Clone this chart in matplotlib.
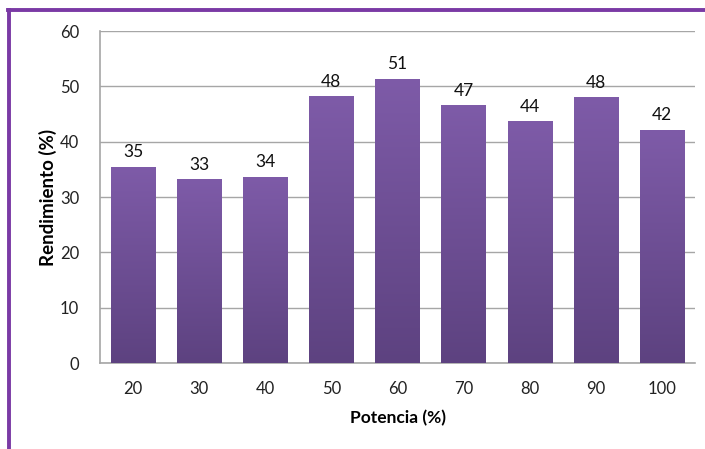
import numpy as np
import matplotlib.pyplot as plt
from matplotlib.colors import LinearSegmentedColormap
from matplotlib.lines import Line2D

# Datos: potencia (%) y rendimiento (%)
potencia = ['20', '30', '40', '50', '60', '70', '80', '90', '100']
rendimiento = [35.4, 33.2, 33.7, 48.2, 51.4, 46.6, 43.7, 48.0, 42.1]
etiquetas = ['35', '33', '34', '48', '51', '47', '44', '48', '42']

plt.rcParams['font.family'] = ['Lato', 'DejaVu Sans']

W, H = 705, 449
fig = plt.figure(figsize=(W / 100, H / 100), dpi=100)
ax = fig.add_axes([100 / W, (H - 363) / H, 595 / W, 332 / H])

x = np.arange(len(potencia))
bars = ax.bar(x, rendimiento, width=0.67, color='#6f519a', zorder=2,
              edgecolor='none')

# degradado vertical en cada barra
cmap = LinearSegmentedColormap.from_list('morado', ['#5d4280', '#7e5ba8'])
grad = np.linspace(0, 1, 256).reshape(-1, 1)
for b in bars:
    x0, w, h = b.get_x(), b.get_width(), b.get_height()
    im = ax.imshow(grad, cmap=cmap, origin='lower', aspect='auto',
                   extent=[x0, x0 + w, 0, h], zorder=3)
    im.set_clip_path(b)

for xi, v, t in zip(x, rendimiento, etiquetas):
    ax.text(xi, v + 1.2, t, ha='center', va='bottom', fontsize=12.5,
            color='#111111', zorder=4)

ax.set_xlim(-0.5, len(potencia) - 0.5)
ax.set_ylim(0, 60)
ax.set_yticks(np.arange(0, 61, 10))
ax.set_xticks(x)
ax.set_xticklabels(potencia)
ax.tick_params(length=0, labelsize=12, colors='#222222')
ax.tick_params(axis='y', pad=15)
ax.tick_params(axis='x', pad=13)
ax.grid(axis='y', color='#a6a6a6', lw=1, zorder=1)
ax.set_axisbelow(True)
for s in ['top', 'right']:
    ax.spines[s].set_visible(False)
for s in ['left', 'bottom']:
    ax.spines[s].set_color('#a6a6a6')
    ax.spines[s].set_linewidth(1.2)

ax.set_ylabel('Rendimiento (%)', fontsize=13.5, fontweight='bold', labelpad=2)
ax.set_xlabel('Potencia (%)', fontsize=12.5, fontweight='bold', labelpad=9)

# marco morado superior e izquierdo
borde = '#7a3aa5'
fig.add_artist(Line2D([9 / W, 9 / W], [0, 1 - 10 / H], color=borde, lw=2.8,
                      transform=fig.transFigure))
fig.add_artist(Line2D([8 / W, 1], [1 - 10 / H, 1 - 10 / H], color=borde, lw=2.8,
                      transform=fig.transFigure))

fig.savefig('out.png', dpi=100)
